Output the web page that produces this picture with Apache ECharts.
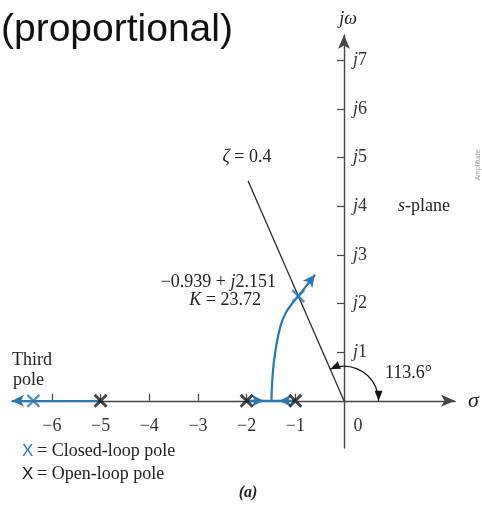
<!DOCTYPE html>
<html>
<head>
<meta charset="utf-8">
<script src="https://cdn.jsdelivr.net/npm/echarts@6/dist/echarts.min.js"></script>
<style>
  html, body { margin: 0; padding: 0; background: #fff; }
  #chart { width: 482px; height: 509px; }
</style>
</head>
<body>
<div id="chart"></div>
<script>
// s-plane axes: tick positions and labels
const xTicks = [-6, -5, -4, -3, -2, -1];
const xLabels = [-6, -5, -4, -3, -2, -1, 0];
const yTicks = [1, 2, 3, 4, 5, 6, 7];

// Poles
const openLoopPoles = [[-5, 0], [-2, 0], [-1, 0]];
const closedLoopPoles = [[-6.38, 0], [-0.939, 2.151]];

// Root-locus branches
const leftBranch = [[-5, 0], [-6.82, 0]];
const realSegment = [[-2, 0], [-1, 0]];
const upperBranch = [[-1.49, 0], [-1.475, 0.4], [-1.44, 0.8], [-1.38, 1.2], [-1.30, 1.55],
                     [-1.20, 1.80], [-1.08, 1.98], [-0.939, 2.151], [-0.60, 2.59]];
const lowerBranch = [[-1.49, 0], [-1.49, -1.03]];
// direction arrows along the locus: [from, to]
const locusArrows = [
  [[-2, 0], [-1.65, 0]],
  [[-1, 0], [-1.33, 0]],
  [[-0.75, 2.39], [-0.60, 2.59]]
];

// Constant damping ratio line (zeta = 0.4) and its angle
const zetaLine = [[0, 0], [-1.97, 4.52]];
const angleArc = [[0, 0, 0.71, 113.6]];

const BLUE = '#2878b4';
const INK = '#161616';
const AXIS = '#444';
const SERIF = '"Liberation Serif", "DejaVu Serif", serif';
const SANS = '"Liberation Sans", Arial, sans-serif';
const XPATH = 'path://M0,0L10,10M10,0L0,10';

// plot area and the axis crossing point (origin) in pixels
const GRID = { left: 12, right: 27, top: 35, bottom: 61 };
const X_MIN = -6.82, X_MAX = 2.28, Y_MIN = -0.97, Y_MAX = 7.52;
const W = 482, H = 509;
const plotW = W - GRID.left - GRID.right, plotH = H - GRID.top - GRID.bottom;
const originX = GRID.left + (0 - X_MIN) / (X_MAX - X_MIN) * plotW;
const originY = GRID.top + (Y_MAX - 0) / (Y_MAX - Y_MIN) * plotH;

const chart = echarts.init(document.getElementById('chart'), null, { renderer: 'canvas' });

function seg(pair, withArrow) {
  return [
    { coord: pair[0], symbol: 'none' },
    { coord: pair[1], symbol: withArrow ? 'arrow' : 'none' }
  ];
}

function arrowHead(tip, dir, len, wid) {
  const bx = tip[0] - dir[0] * len, by = tip[1] - dir[1] * len;
  const nx = -dir[1], ny = dir[0];
  return {
    type: 'polygon',
    shape: { points: [tip, [bx + nx * wid / 2, by + ny * wid / 2], [bx - nx * wid / 2, by - ny * wid / 2]] },
    style: { fill: INK }
  };
}

const option = {
  animation: false,
  grid: Object.assign({ containLabel: false }, GRID),
  xAxis: {
    type: 'value', min: X_MIN, max: X_MAX, position: 'bottom',
    offset: -(H - GRID.bottom - originY),
    name: 'σ', nameLocation: 'end', nameGap: 13,
    nameTextStyle: { fontFamily: SERIF, fontStyle: 'italic', fontSize: 22, color: '#222', verticalAlign: 'middle' },
    axisLine: { onZero: false, symbol: ['none', 'arrow'], symbolSize: [9, 14], lineStyle: { color: AXIS, width: 1.4 } },
    axisTick: { show: true, inside: true, length: 7, customValues: xTicks, lineStyle: { color: AXIS, width: 1.2 } },
    axisLabel: {
      customValues: xLabels, margin: 16, color: '#333', fontFamily: SERIF, fontSize: 18,
      formatter: v => v === 0 ? '{z|0}' : '−' + Math.abs(v),
      rich: { z: { fontFamily: SERIF, fontSize: 18, color: '#333', padding: [0, 0, 0, 28] } }
    },
    splitLine: { show: false }
  },
  yAxis: {
    type: 'value', min: Y_MIN, max: Y_MAX, position: 'left',
    offset: -(originX - GRID.left),
    name: 'jω', nameLocation: 'end', nameGap: 7,
    nameTextStyle: { fontFamily: SERIF, fontStyle: 'italic', fontSize: 18, color: '#222', padding: [0, 0, 0, 8] },
    axisLine: { onZero: false, symbol: ['none', 'arrow'], symbolSize: [9, 14], lineStyle: { color: AXIS, width: 1.4 } },
    axisTick: { show: true, inside: false, length: 7, customValues: yTicks, lineStyle: { color: AXIS, width: 1.2 } },
    axisLabel: {
      customValues: yTicks, inside: true, margin: 9,
      formatter: v => '{i|j}{n|' + v + '}',
      rich: {
        i: { fontFamily: SERIF, fontStyle: 'italic', fontSize: 18, color: '#333' },
        n: { fontFamily: SERIF, fontSize: 18, color: '#333' }
      }
    },
    splitLine: { show: false }
  },
  series: [
    {
      // zeta = 0.4 radial line
      type: 'line', data: zetaLine, symbol: 'none', silent: true, z: 3,
      lineStyle: { color: '#2a2a2a', width: 1.3 }
    },
    {
      // 113.6 degree angle arc with arrowheads at both ends
      type: 'custom', data: angleArc, silent: true, clip: false, z: 3,
      renderItem: (params, api) => {
        const c = api.coord([api.value(0), api.value(1)]);
        const r = api.size([api.value(2), 0])[0];
        const a = api.value(3) * Math.PI / 180;
        const start = [c[0] + r * Math.cos(a), c[1] - r * Math.sin(a)];
        const end = [c[0] + r, c[1]];
        return {
          type: 'group',
          children: [
            {
              type: 'arc',
              shape: { cx: c[0], cy: c[1], r: r, startAngle: -a, endAngle: 0, clockwise: true },
              style: { stroke: INK, lineWidth: 1.3, fill: null }
            },
            arrowHead(start, [-Math.sin(a), -Math.cos(a)], 10, 8),
            arrowHead(end, [0, 1], 10, 8)
          ]
        };
      }
    },
    {
      // upper complex branch of the locus
      type: 'line', data: upperBranch, symbol: 'none', smooth: 0.4, silent: true, z: 4,
      lineStyle: { color: BLUE, width: 2.2 }
    },
    {
      // real-axis segment between -2 and -1, plus arrows on all branches
      type: 'line', data: realSegment, symbol: 'none', silent: true, z: 4,
      lineStyle: { color: BLUE, width: 2.2 },
      markLine: {
        silent: true, symbolSize: [9, 12], label: { show: false }, emphasis: { disabled: true },
        lineStyle: { color: BLUE, width: 2.2, type: 'solid' },
        data: [seg(leftBranch, true), seg(lowerBranch, true)].concat(locusArrows.map(p => seg(p, true)))
      }
    },
    {
      name: 'Open-loop pole', type: 'scatter', data: openLoopPoles, silent: true, z: 6,
      symbol: XPATH, symbolSize: 12,
      itemStyle: { color: 'none', borderColor: INK, borderWidth: 3 }
    },
    {
      name: 'Closed-loop pole', type: 'scatter', data: closedLoopPoles, silent: true, z: 6,
      symbol: XPATH, symbolSize: 12,
      itemStyle: { color: 'none', borderColor: BLUE, borderWidth: 2.4 }
    }
  ],
  graphic: [
    { type: 'text', left: 1, top: 11, style: { text: '(proportional)', font: '39px ' + SANS, fill: '#111' } },
    { type: 'text', x: 247, y: 157, style: { text: '{i|ζ} = 0.4', align: 'center', verticalAlign: 'middle',
        font: '18px ' + SERIF, fill: '#222', rich: { i: { fontStyle: 'italic', fontFamily: SERIF, fontSize: 18 } } } },
    { type: 'text', x: 398, y: 206, style: { text: '{i|s}-plane', verticalAlign: 'middle',
        font: '18px ' + SERIF, fill: '#222', rich: { i: { fontStyle: 'italic', fontFamily: SERIF, fontSize: 18 } } } },
    { type: 'text', x: 276, y: 282, style: { text: '−0.939 + {i|j}2.151', align: 'right', verticalAlign: 'middle',
        font: '18px ' + SERIF, fill: '#222', rich: { i: { fontStyle: 'italic', fontFamily: SERIF, fontSize: 18 } } } },
    { type: 'text', x: 261, y: 300, style: { text: '{i|K} = 23.72', align: 'right', verticalAlign: 'middle',
        font: '18px ' + SERIF, fill: '#222', rich: { i: { fontStyle: 'italic', fontFamily: SERIF, fontSize: 18 } } } },
    { type: 'text', x: 385, y: 373, style: { text: '113.6°', verticalAlign: 'middle', font: '18px ' + SERIF, fill: '#222' } },
    { type: 'text', x: 12, y: 360, style: { text: 'Third', verticalAlign: 'middle', font: '18px ' + SERIF, fill: '#222' } },
    { type: 'text', x: 13, y: 380, style: { text: 'pole', verticalAlign: 'middle', font: '18px ' + SERIF, fill: '#222' } },
    { type: 'text', x: 22, y: 451, style: { text: 'X', verticalAlign: 'middle', font: '17px ' + SANS, fill: BLUE } },
    { type: 'text', x: 37, y: 451, style: { text: '= Closed-loop pole', verticalAlign: 'middle', font: '18px ' + SERIF, fill: '#222' } },
    { type: 'text', x: 22, y: 474, style: { text: 'X', verticalAlign: 'middle', font: '17px ' + SANS, fill: '#111' } },
    { type: 'text', x: 37, y: 474, style: { text: '= Open-loop pole', verticalAlign: 'middle', font: '18px ' + SERIF, fill: '#222' } },
    { type: 'text', x: 248, y: 493, style: { text: '(a)', align: 'center', verticalAlign: 'middle',
        font: 'italic bold 16px ' + SERIF, fill: '#222' } },
    { type: 'text', x: 478, y: 165, rotation: Math.PI / 2, style: { text: 'Amplitude', align: 'center', verticalAlign: 'middle',
        font: '7px ' + SANS, fill: '#9a9a9a' } }
  ]
};

chart.setOption(option);
</script>
</body>
</html>
